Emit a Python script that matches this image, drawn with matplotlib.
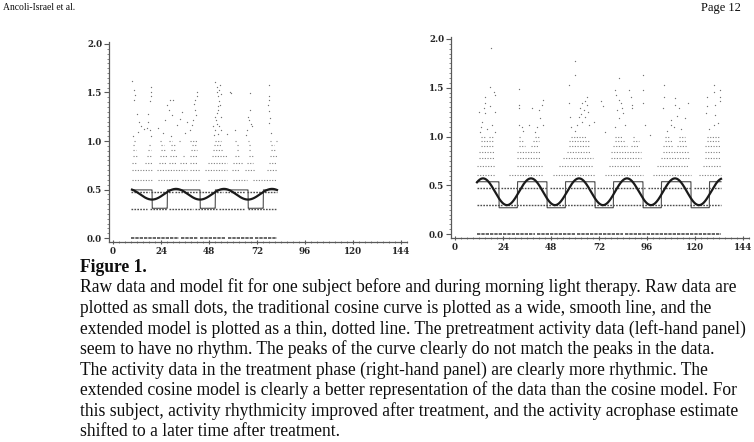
import numpy as np
import matplotlib
matplotlib.use("Agg")
import matplotlib.pyplot as plt
from matplotlib.ticker import MultipleLocator, FormatStrFormatter

# ---------------- data ----------------
# quantised activity rows, y = log10(count + 1)
row_levels = [0.0, 0.301, 0.477, 0.602, 0.699, 0.778, 0.845, 0.903, 0.954, 1.0]

# left panel (pretreatment): hour spans where each row is densely dotted
left_rows = [
    [(9, 33), (34, 42.5), (43.5, 56.5), (57.5, 70), (71, 82)],
    [(9, 17), (18.5, 27), (28, 40), (41, 52), (53, 66), (67.5, 82)],
    [(9, 18), (19, 30), (31, 42), (43, 55), (56, 66), (67, 82)],
    [(9.5, 19.5), (22.5, 32.5), (34.5, 43.5), (47.5, 57), (60, 67), (70, 82)],
    [(9.5, 19.5), (22, 37), (38.5, 43.5), (46, 57), (59.5, 63.5), (66, 71), (77, 82)],
    [(9.5, 12), (16, 19.5), (23, 27), (28, 32), (33.5, 37), (38.5, 42), (47.5, 57), (60, 65), (67, 70), (78, 82)],
    [(10, 12), (17, 19.5), (23.5, 27), (28.5, 32), (35, 36), (38.5, 42.5), (49.5, 57), (61, 63.5), (68, 70), (78.5, 82)],
    [(10, 11.5), (17.5, 19), (24, 26), (29, 31), (39, 42), (50, 55), (62, 63), (68, 69), (79, 81)],
    [(10, 11), (18, 19), (24, 25.5), (29, 31), (39.5, 42), (50.5, 54), (62, 63), (68, 69), (79, 80.5)],
    [(10.5, 11.5), (23.5, 24.5), (28, 29.5), (33, 34), (38.5, 42), (51, 54), (61, 62), (67.5, 68), (78.5, 79), (81.5, 82)],
]
left_pts_x = [9.7, 10.7, 11, 10.7, 12.2, 13.2, 14, 12.7, 10, 15.5,
              18.8, 18.8, 18.8, 18.5, 17.7, 17.7, 16.8, 18.5, 19,
              22.7, 26, 27.2, 28.5, 28.2, 29.3, 30.2, 31.8, 33.5, 34.3, 25, 29,
              36.8, 38.5, 39.3, 40.2, 41, 41, 41.8, 42.2, 41.5, 40.5, 36,
              51, 51.8, 52, 52.7, 53.2, 53.5, 52.7, 51.8, 51, 51.5, 52.2, 53.2, 53.8,
              50.2, 51, 53.5, 53.2, 53.8, 52.5, 54, 50.5, 52.5,
              58.5, 59.2, 61, 57,
              68.5, 68.5, 67.7, 68.2, 68.8, 69.3, 67, 66.5,
              78.2, 78.2, 78, 77.7, 78.2, 78.5, 78.2, 79]
left_pts_y = [1.62, 1.53, 1.47, 1.42, 1.28, 1.20, 1.15, 1.09, 1.05, 1.12,
              1.56, 1.51, 1.46, 1.41, 1.28, 1.20, 1.13, 1.11, 1.05,
              1.13, 1.22, 1.37, 1.42, 1.32, 1.27, 1.42, 1.16, 1.23, 1.30, 1.08, 1.05,
              1.20, 1.11, 1.16, 1.22, 1.32, 1.42, 1.46, 1.51, 1.27, 1.38, 1.08,
              1.61, 1.56, 1.51, 1.46, 1.41, 1.37, 1.32, 1.29, 1.25, 1.22, 1.18, 1.15, 1.11,
              1.15, 1.11, 1.58, 1.53, 1.48, 1.36, 1.25, 1.06, 1.07,
              1.51, 1.49, 1.11, 1.07,
              1.49, 1.32, 1.25, 1.22, 1.18, 1.15, 1.11, 1.06,
              1.58, 1.46, 1.42, 1.37, 1.31, 1.24, 1.19, 1.08]

# right panel (treatment)
right_rows = [
    [(11, 40), (41, 60), (61, 84), (85, 133)],
    [(11, 24), (25, 48), (49, 72), (73, 96), (97, 120), (121, 133)],
    [(11, 22), (23, 46), (47.5, 70), (71, 95), (96.5, 118), (119.5, 133)],
    [(11, 20), (27, 44), (49, 70), (75, 94), (99, 118), (122, 133)],
    [(11, 20), (31, 44), (52, 69), (77, 93), (101, 117), (124, 133)],
    [(12, 20), (31, 43), (54, 69), (78, 93), (103, 117), (125, 133)],
    [(12, 20), (31, 43), (56, 68), (78, 93), (104, 117), (125, 133)],
    [(13, 19), (32, 35), (38, 42), (57, 67), (79, 86), (88, 92), (104, 109), (111, 116), (125, 133)],
    [(13, 19), (32, 34), (39, 42), (57, 67), (80, 85), (89, 92), (105, 109), (112, 116), (126, 132)],
    [(13, 15), (17, 19), (32, 33), (40, 42), (58, 66), (80, 84), (89, 90), (105, 107), (112, 115), (126, 132)],
]
right_pts_x = [18, 17.3, 19.3, 19.8, 14.8, 14.8, 14.3, 14.8, 13.5, 19.8, 17.7, 18.5, 19.8, 11.8, 12.7, 16, 13,
               31.8, 32, 32, 31.8, 33.5, 41.8, 43.5, 44, 42.7, 41, 44.2, 38.5, 36.8, 40, 34,
               60.2, 60.2, 56.8, 56.8, 62.7, 63.5, 64.8, 66, 66, 64.3, 63.2, 66.5, 69.3, 63.5, 61, 60.2, 67, 58, 62, 65, 57.5,
               73.2, 73.8, 75.2,
               81.8, 80.2, 80.5, 81.8, 83.2, 83.5, 81, 84, 82, 88.2, 88.5, 88.5, 86.8, 93.8, 93.8, 93.8, 95.2, 97.7, 85, 80,
               104.3, 104.3, 103.8, 110.2, 110.2, 111.8, 111, 115.2, 116.5, 108.2, 108.2, 109.3, 113, 106,
               126, 126, 125.5, 129.3, 129.3, 130.2, 130.2, 132.7, 132.7, 132.7, 131.5, 129.3, 127]
right_pts_y = [1.91, 1.51, 1.46, 1.43, 1.41, 1.34, 1.29, 1.24, 1.15, 1.25, 1.31, 1.12, 1.05, 1.25, 1.05, 1.08, 1.10,
               1.49, 1.32, 1.29, 1.12, 1.10, 1.27, 1.32, 1.37, 1.19, 1.10, 1.12, 1.29, 1.12, 1.05, 1.06,
               1.77, 1.63, 1.53, 1.34, 1.29, 1.34, 1.36, 1.41, 1.32, 1.27, 1.23, 1.25, 1.15, 1.15, 1.12, 1.06, 1.12, 1.10, 1.20, 1.20, 1.20,
               1.36, 1.31, 1.05,
               1.60, 1.48, 1.43, 1.37, 1.34, 1.29, 1.27, 1.24, 1.19, 1.41, 1.32, 1.29, 1.48, 1.63, 1.48, 1.34, 1.12, 1.02, 1.12, 1.10,
               1.53, 1.41, 1.29, 1.39, 1.32, 1.29, 1.21, 1.19, 1.34, 1.17, 1.12, 1.10, 1.08, 1.06,
               1.41, 1.31, 1.24, 1.53, 1.46, 1.32, 1.22, 1.48, 1.41, 1.36, 1.14, 1.12, 1.08]

# fitted models: (mesor, amplitude, acrophase h) and extended (min, amp, alpha, acrophase h)
left_span = (9.5, 82.0)
right_span = (11.0, 133.0)
left_cosine = (0.452, 0.055, 7.5)
right_cosine = (0.434, 0.137, 14.0)
left_extended = (0.307, 0.190, -0.545, 11.35)
right_extended = (0.270, 0.267, -0.358, 14.6)
period = 24.0

x_ticks = [0, 24, 48, 72, 96, 120, 144]
y_ticks = [0.0, 0.5, 1.0, 1.5, 2.0]

header_left = "Ancoli-Israel et al."
header_right = "Page 12"
caption_title = "Figure 1."
caption_lines = [
    "Raw data and model fit for one subject before and during morning light therapy. Raw data are",
    "plotted as small dots, the traditional cosine curve is plotted as a wide, smooth line, and the",
    "extended model is plotted as a thin, dotted line. The pretreatment activity data (left-hand panel)",
    "seem to have no rhythm. The peaks of the curve clearly do not match the peaks in the data.",
    "The activity data in the treatment phase (right-hand panel) are clearly more rhythmic. The",
    "extended cosine model is clearly a better representation of the data than the cosine model. For",
    "this subject, activity rhythmicity improved after treatment, and the activity acrophase estimate",
    "shifted to a later time after treatment.",
]

# ---------------- figure ----------------
W, H = 754, 442
fig = plt.figure(figsize=(W / 100, H / 100), dpi=100)
fig.patch.set_facecolor("white")

def px_axes(x0, y_top, w, h):
    return fig.add_axes([x0 / W, 1 - (y_top + h) / H, w / W, h / H])

axL = px_axes(109, 42, 298, 200)
axR = px_axes(451, 37, 298, 201)

def draw_panel(ax, rows, px, py, span, cos_p, ext_p):
    for lvl, segs in zip(row_levels, rows):
        for a, b in segs:
            if lvl < 0.1:
                lw, col, ls = 1.2, "0.3", (0, (2.0, 0.6))
            elif lvl < 0.5:
                lw, col, ls = 1.0, "0.3", (0, (1.2, 0.9))
            else:
                lw, col, ls = 0.8, "0.5", (0, (1.0, 1.4))
            ax.plot([a, b], [lvl, lvl], color=col, lw=lw,
                    linestyle=ls, solid_capstyle="butt")
    ax.scatter(px, py, s=0.9, color="0.45", linewidths=0, zorder=3)
    t = np.linspace(span[0], span[1], 6000)
    m, a, phi = cos_p
    ax.plot(t, m + a * np.cos(2 * np.pi * (t - phi) / period), color="0.1", lw=1.6, zorder=5)
    mn, amp, alpha, phi2 = ext_p
    c = np.cos(2 * np.pi * (t - phi2) / period)
    z = np.clip(400 * (c - alpha), -50, 50)
    ax.plot(t, mn + amp / (1 + np.exp(-z)), color="0.3", lw=0.8, zorder=4)

    ax.set_xlim(-2, 147)
    ax.set_ylim(-0.04, 2.02)
    for s in ("top", "right"):
        ax.spines[s].set_visible(False)
    for s in ("left", "bottom"):
        ax.spines[s].set_color("0.35")
        ax.spines[s].set_linewidth(0.9)
    ax.set_xticks(x_ticks)
    ax.set_yticks(y_ticks)
    ax.xaxis.set_minor_locator(MultipleLocator(3))
    ax.yaxis.set_minor_locator(MultipleLocator(0.05))
    ax.yaxis.set_major_formatter(FormatStrFormatter("%.1f"))
    ax.tick_params(axis="both", which="major", length=3.5, width=0.8, color="0.35",
                   labelsize=6.3, labelcolor="0.15")
    ax.tick_params(axis="both", which="minor", length=1.8, width=0.6, color="0.45")
    ax.tick_params(axis="x", which="both", direction="inout", pad=1.5)
    ax.tick_params(axis="y", which="major", pad=1.5)
    for lab in ax.get_xticklabels() + ax.get_yticklabels():
        lab.set_fontweight("bold")
        lab.set_family("DejaVu Serif")

draw_panel(axL, left_rows, left_pts_x, left_pts_y, left_span, left_cosine, left_extended)
draw_panel(axR, right_rows, right_pts_x, right_pts_y, right_span, right_cosine, right_extended)

# ---------------- text ----------------
serif = "Liberation Serif"
renderer = fig.canvas.get_renderer()

def fit_text(x, y, s, target_w, weight="normal", ha="left", base=10):
    t = fig.text(x / W, 1 - y / H, s, family=serif, fontsize=base, weight=weight,
                 ha=ha, va="center", color="0.05")
    w = t.get_window_extent(renderer).width
    t.set_fontsize(base * target_w / w)
    return t

fit_text(3, 8, header_left, 72, base=8)
fit_text(741, 8, header_right, 40, ha="right", base=8)

ref = fig.text(80 / W, 0, caption_lines[2], family=serif, fontsize=10)
cap_size = 10 * 670 / ref.get_window_extent(renderer).width
ref.remove()

fig.text(80 / W, 1 - 268 / H, caption_title, family=serif, fontsize=cap_size,
         weight="bold", va="center", color="0.05")
for i, line in enumerate(caption_lines):
    fig.text(80 / W, 1 - (287.5 + 20.6 * i) / H, line, family=serif, fontsize=cap_size,
             va="center", color="0.05")

fig.savefig("out.png", dpi=100, facecolor="white")
